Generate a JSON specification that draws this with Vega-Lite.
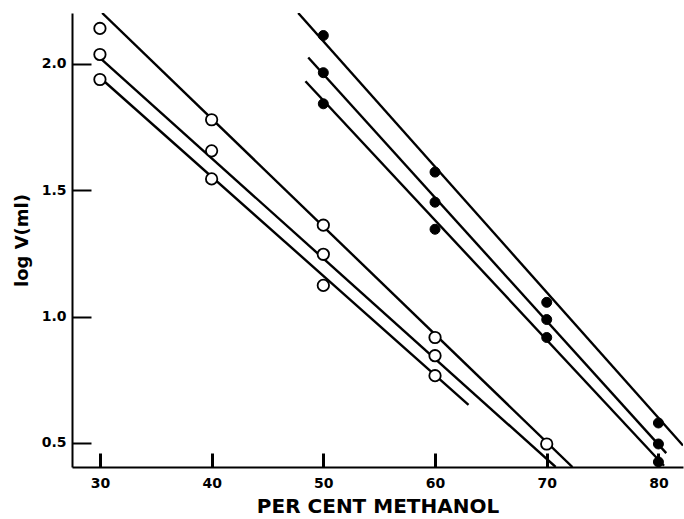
{
  "$schema": "https://vega.github.io/schema/vega-lite/v6.json",
  "width": 611,
  "height": 454,
  "autosize": {"type": "none"},
  "padding": {"left": 72, "top": 13, "right": 1, "bottom": 52},
  "background": "white",
  "config": {
    "view": {"stroke": null},
    "axis": {
      "grid": false,
      "domainColor": "black",
      "domainWidth": 2,
      "tickColor": "black",
      "tickWidth": 2,
      "tickOpacity": 1,
      "labelColor": "black",
      "labelFont": "DejaVu Sans",
      "labelFontWeight": "bold",
      "labelFontSize": 14,
      "titleColor": "black",
      "titleFont": "DejaVu Sans",
      "titleFontWeight": "bold"
    }
  },
  "datasets": {
    "points": [
      {"pct": 30, "logV": 2.139, "series": "A", "kind": "open"},
      {"pct": 40, "logV": 1.778, "series": "A", "kind": "open"},
      {"pct": 50, "logV": 1.361, "series": "A", "kind": "open"},
      {"pct": 60, "logV": 0.917, "series": "A", "kind": "open"},
      {"pct": 70, "logV": 0.496, "series": "A", "kind": "open"},
      {"pct": 30, "logV": 2.036, "series": "B", "kind": "open"},
      {"pct": 40, "logV": 1.655, "series": "B", "kind": "open"},
      {"pct": 50, "logV": 1.246, "series": "B", "kind": "open"},
      {"pct": 60, "logV": 0.845, "series": "B", "kind": "open"},
      {"pct": 30, "logV": 1.937, "series": "C", "kind": "open"},
      {"pct": 40, "logV": 1.544, "series": "C", "kind": "open"},
      {"pct": 50, "logV": 1.123, "series": "C", "kind": "open"},
      {"pct": 60, "logV": 0.766, "series": "C", "kind": "open"},
      {"pct": 50, "logV": 2.111, "series": "D", "kind": "filled"},
      {"pct": 60, "logV": 1.571, "series": "D", "kind": "filled"},
      {"pct": 70, "logV": 1.056, "series": "D", "kind": "filled"},
      {"pct": 80, "logV": 0.579, "series": "D", "kind": "filled"},
      {"pct": 50, "logV": 1.964, "series": "E", "kind": "filled"},
      {"pct": 60, "logV": 1.452, "series": "E", "kind": "filled"},
      {"pct": 70, "logV": 0.988, "series": "E", "kind": "filled"},
      {"pct": 80, "logV": 0.496, "series": "E", "kind": "filled"},
      {"pct": 50, "logV": 1.841, "series": "F", "kind": "filled"},
      {"pct": 60, "logV": 1.345, "series": "F", "kind": "filled"},
      {"pct": 70, "logV": 0.917, "series": "F", "kind": "filled"},
      {"pct": 80, "logV": 0.425, "series": "F", "kind": "filled"}
    ],
    "lines": [
      {"pct": 30.2, "logV": 2.2, "series": "A"},
      {"pct": 72.3, "logV": 0.405, "series": "A"},
      {"pct": 29.55, "logV": 2.04, "series": "B"},
      {"pct": 70.8, "logV": 0.405, "series": "B"},
      {"pct": 30.2, "logV": 1.937, "series": "C"},
      {"pct": 63.0, "logV": 0.651, "series": "C"},
      {"pct": 47.75, "logV": 2.2, "series": "D"},
      {"pct": 82.2, "logV": 0.49, "series": "D"},
      {"pct": 48.65, "logV": 2.024, "series": "E"},
      {"pct": 80.7, "logV": 0.46, "series": "E"},
      {"pct": 48.4, "logV": 1.93, "series": "F"},
      {"pct": 80.5, "logV": 0.41, "series": "F"}
    ]
  },
  "resolve": {"axis": {"x": "independent", "y": "independent"}},
  "layer": [
    {
      "data": {"name": "lines"},
      "mark": {"type": "line", "color": "black", "strokeWidth": 2.4, "clip": true},
      "encoding": {
        "x": {
          "field": "pct",
          "type": "quantitative",
          "scale": {"domain": [27.5, 82.2], "nice": false, "zero": false},
          "axis": {
            "orient": "bottom",
            "values": [30, 40, 50, 60, 70, 80],
            "title": "PER CENT METHANOL",
            "titleFontSize": 20,
            "titlePadding": 6,
            "ticks": false,
            "labelPadding": 9
          }
        },
        "y": {
          "field": "logV",
          "type": "quantitative",
          "scale": {"domain": [0.405, 2.2], "nice": false, "zero": false},
          "axis": {
            "orient": "left",
            "values": [0.5, 1.0, 1.5, 2.0],
            "format": ".1f",
            "title": "log V(ml)",
            "titleFontSize": 18,
            "titlePadding": 10,
            "ticks": false,
            "labelPadding": 6
          }
        },
        "detail": {"field": "series"}
      }
    },
    {
      "data": {"name": "points"},
      "transform": [{"filter": "datum.kind === 'open'"}],
      "mark": {"type": "point", "shape": "circle", "filled": true, "fill": "white", "stroke": "black", "strokeWidth": 1.8, "size": 130, "opacity": 1},
      "encoding": {
        "x": {
          "field": "pct",
          "type": "quantitative",
          "axis": {
            "orient": "bottom",
            "values": [30, 40, 50, 60, 70, 80],
            "title": null,
            "domain": false,
            "labels": false,
            "ticks": true,
            "tickColor": "black",
            "tickWidth": 3,
            "tickSize": 14,
            "offset": -14
          }
        },
        "y": {
          "field": "logV",
          "type": "quantitative",
          "axis": {
            "orient": "left",
            "values": [0.5, 1.0, 1.5, 2.0],
            "title": null,
            "domain": false,
            "labels": false,
            "ticks": true,
            "tickSize": 19,
            "offset": -19
          }
        }
      }
    },
    {
      "data": {"name": "points"},
      "transform": [{"filter": "datum.kind === 'filled'"}],
      "mark": {"type": "point", "shape": "circle", "filled": true, "fill": "black", "stroke": "black", "strokeWidth": 1, "size": 100, "opacity": 1},
      "encoding": {
        "x": {"field": "pct", "type": "quantitative", "axis": null},
        "y": {"field": "logV", "type": "quantitative", "axis": null}
      }
    }
  ]
}
